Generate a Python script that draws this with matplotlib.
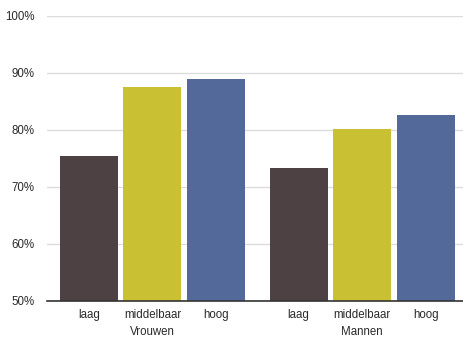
import matplotlib
matplotlib.use('Agg')
from matplotlib import pyplot as plt
from matplotlib.ticker import FuncFormatter

groups = ['Vrouwen', 'Mannen']
levels = ['laag', 'middelbaar', 'hoog']
vrouwen = [75.4, 87.5, 88.9]
mannen = [73.3, 80.1, 82.7]
colours = ['#4d4143', '#c9c034', '#52699a']

plt.rcParams['font.family'] = ['Liberation Sans', 'DejaVu Sans']

fig = plt.figure(figsize=(4.64, 3.38), dpi=100)
ax = fig.add_axes([0.101, 0.1095, 0.899, 0.8435])

group_start = [0, 3.3]
positions = []
for g, values in zip(group_start, [vrouwen, mannen]):
    xs = [g + i for i in range(len(levels))]
    ax.bar(xs, [v - 50 for v in values], bottom=50, width=0.91, color=colours, zorder=2)
    positions += xs

ax.set_ylim(50, 100)
ax.set_xlim(-0.66, 5.9)
ax.set_yticks([50, 60, 70, 80, 90, 100])
ax.yaxis.set_major_formatter(FuncFormatter(lambda v, p: f'{int(v)}%'))
ax.grid(axis='y', color='#dcdcdc', linewidth=1, zorder=0)
ax.set_xticks(positions)
ax.set_xticklabels(levels * 2)

for side in ['top', 'right', 'left']:
    ax.spines[side].set_visible(False)
ax.spines['bottom'].set_color('#333333')
ax.spines['bottom'].set_linewidth(1.2)
ax.tick_params(axis='both', length=0, labelsize=8.3, colors='#2a2a2a')
ax.tick_params(axis='y', pad=9)
ax.tick_params(axis='x', pad=6)

for g, name in zip(group_start, groups):
    ax.text(g + 1, -0.11, name, transform=ax.get_xaxis_transform(),
            ha='center', va='center', fontsize=8.3, color='#2a2a2a')

fig.savefig('out.png', dpi=100)
